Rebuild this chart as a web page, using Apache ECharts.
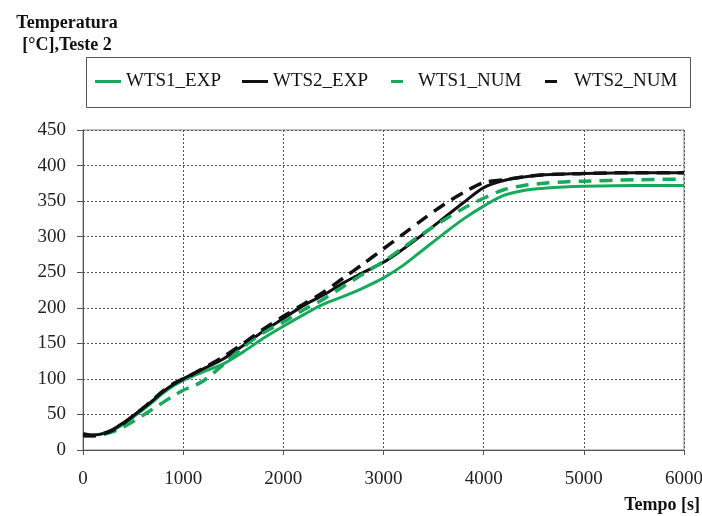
<!DOCTYPE html>
<html>
<head>
<meta charset="utf-8">
<script src="https://cdn.jsdelivr.net/npm/echarts@6/dist/echarts.min.js"></script>
<style>html,body{margin:0;padding:0;background:#fff}#c{width:702px;height:516px}</style>
</head>
<body>
<div id="c"></div>
<script>
const time = [0,100,200,300,400,500,600,700,800,900,1000,1100,1200,1400,1600,1800,2000,2200,2400,2600,2800,3000,3200,3400,3600,3800,4000,4200,4400,4600,4800,5000,5500,6000];
const wts1Exp = [23,21,23,28,36,46,57,68,80,90,98,104,110,121,138,157,174,190,205,216,228,242,260,282,304,325,343,358,365,368,370,371,372,372];
const wts2Exp = [23,21,23,29,38,48,59,70,82,92,100,107,114,128,147,167,185,203,218,235,250,264,283,304,326,348,369,379,384,387,388,389,390,390];
const wts1Num = [20,20,22,26,32,40,49,58,67,76,84,90,97,120,145,165,180,197,212,230,248,265,285,305,323,340,354,366,372,375,377,378,380,381];
const wts2Num = [20,20,23,28,37,48,59,71,83,93,100,107,115,131,150,170,188,205,222,242,262,283,304,325,345,362,376,380,384,387,388,389,390,390];
const seriesNames = ['WTS1_EXP','WTS2_EXP','WTS1_NUM','WTS2_NUM'];

const GREEN = '#18a95c', BLACK = '#111111';
const FONT = 'Liberation Serif';
const pairs = arr => time.map((t,i)=>[t, arr[i]]);

const chart = echarts.init(document.getElementById('c'), null, {renderer:'canvas'});
const legendBase = {top: 72, padding: 0, itemHeight: 3, textStyle:{fontFamily:FONT, fontSize:19, color:'#111'}};
chart.setOption({
  animation: false,
  backgroundColor: '#fff',
  title: {
    text: 'Temperatura\n[°C],Teste 2',
    left: 62, top: 7, textAlign: 'center',
    textStyle: {fontFamily: FONT, fontSize: 18, fontWeight: 'bold', color: '#111', lineHeight: 22}
  },
  legend: [
    Object.assign({}, legendBase, {left: 95, itemWidth: 26, icon: 'rect', data: [seriesNames[0]]}),
    Object.assign({}, legendBase, {left: 242, itemWidth: 26, icon: 'rect', data: [seriesNames[1]]}),
    Object.assign({}, legendBase, {left: 391, itemWidth: 12, icon: 'rect', data: [seriesNames[2]], textStyle: Object.assign({}, legendBase.textStyle, {padding:[0,0,0,10]})}),
    Object.assign({}, legendBase, {left: 545, itemWidth: 12, icon: 'rect', data: [seriesNames[3]], textStyle: Object.assign({}, legendBase.textStyle, {padding:[0,0,0,12]})})
  ],
  graphic: [
    {type:'rect', shape:{x:86.5, y:57.5, width:604, height:50}, style:{fill:'none', stroke:'#555', lineWidth:1}, z: -1},
    {type:'text', right: 2, top: 496, style:{text:'Tempo [s]', font:'bold 18px "Liberation Serif"', fill:'#111'}}
  ],
  grid: {left: 83, right: 18, top: 130, bottom: 66, show: true, borderColor: '#888', borderWidth: 1, outerBoundsMode: 'none', containLabel: false},
  xAxis: {
    type: 'value', min: 0, max: 6000, interval: 1000,
    axisLine: {show: true, lineStyle: {color: '#555', width: 1}},
    axisTick: {show: true, inside: false, length: 5, lineStyle: {color: '#555'}},
    axisLabel: {fontFamily: FONT, fontSize: 19, color: '#222', margin: 20, formatter: v => String(v)},
    splitLine: {show: true, lineStyle: {color: '#555', type: [2,2], width: 1}}
  },
  yAxis: {
    type: 'value', min: 0, max: 450, interval: 50,
    axisLine: {show: true, lineStyle: {color: '#555', width: 1}},
    axisTick: {show: true, inside: false, length: 6, lineStyle: {color: '#555'}},
    axisLabel: {fontFamily: FONT, fontSize: 19, color: '#222', margin: 17},
    splitLine: {show: true, lineStyle: {color: '#555', type: [2,2], width: 1}}
  },
  series: [
    {name: seriesNames[0], type:'line', data: pairs(wts1Exp), color: GREEN, showSymbol:false, smooth:0.3, lineStyle:{color:GREEN, width:3}},
    {name: seriesNames[1], type:'line', data: pairs(wts2Exp), color: BLACK, showSymbol:false, smooth:0.3, lineStyle:{color:BLACK, width:3}},
    {name: seriesNames[2], type:'line', data: pairs(wts1Num), color: GREEN, showSymbol:false, smooth:0.3, lineStyle:{color:GREEN, width:3.5, type:[13,8]}},
    {name: seriesNames[3], type:'line', data: pairs(wts2Num), color: BLACK, showSymbol:false, smooth:0.3, lineStyle:{color:BLACK, width:3.5, type:[13,8]}}
  ]
});
</script>
</body>
</html>
